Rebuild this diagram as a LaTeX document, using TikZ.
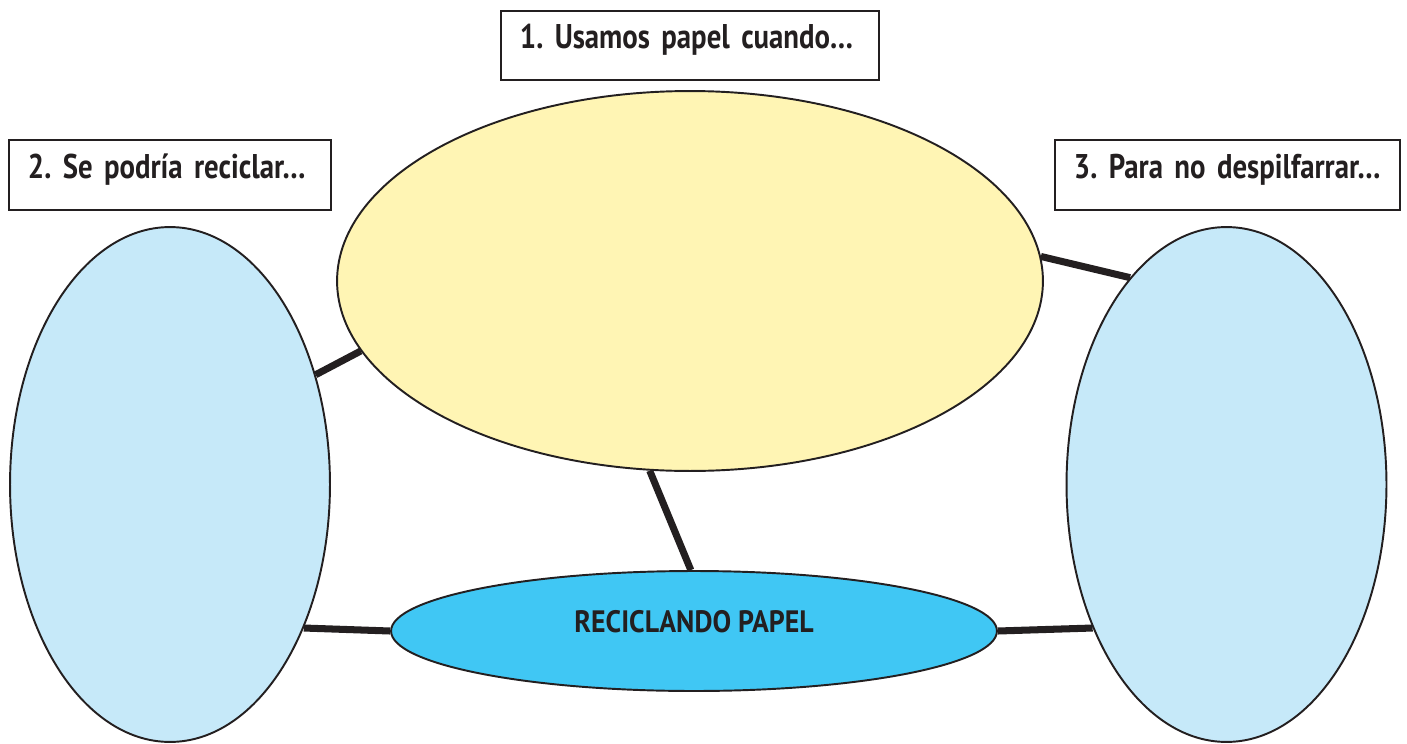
\documentclass[tikz,border=0pt]{standalone}
\usepackage{fontspec}
\setmainfont{PT Sans}[FakeStretch=0.9]
\newfontfamily\boxfont{PT Sans}[FakeStretch=0.84]
\usepackage{xcolor}
\usetikzlibrary{positioning, shapes.geometric, backgrounds}
\definecolor{inkdark}{HTML}{231F20}
\definecolor{paleyellow}{HTML}{FFF5B4}
\definecolor{paleblue}{HTML}{C6E9F9}
\definecolor{brightblue}{HTML}{40C7F4}
\frenchspacing
\tikzset{
  qbox/.style={rectangle, draw=inkdark, line width=1.1pt, fill=white,
               inner xsep=0.38cm, inner ysep=0pt, align=left, anchor=north west,
               text height=0.75em, text depth=0.35em,
               font=\boxfont\bfseries\fontsize{19.5}{22}\selectfont, text=inkdark},
  blob/.style={ellipse, draw=inkdark, line width=1.1pt, inner sep=0pt},
  link/.style={draw=inkdark, line width=4pt},
}

\begin{document}
\begin{tikzpicture}[x=0.02cm, y=-0.02cm]
  \useasboundingbox (0,0) rectangle (1407,744);
  % question boxes
  \node[qbox, minimum width=7.56cm, minimum height=1.38cm, text width=6.8cm] (q1) at (500,10) {\mbox{1. Usamos papel cuando…}};
  \node[qbox, minimum width=6.44cm, minimum height=1.40cm, text width=5.68cm] (q2) at (8,139) {\mbox{2. Se podría reciclar…}};
  \node[qbox, minimum width=6.90cm, minimum height=1.40cm, text width=6.14cm] (q3) at (1054,139) {\mbox{3. Para no despilfarrar…}};
  % answer ellipses
  \node[blob, fill=paleyellow, minimum width=14.12cm, minimum height=7.6cm] (uses) at (690,281) {};
  \node[blob, fill=paleblue, minimum width=6.4cm, minimum height=10.3cm] (recyc) at (170,484.5) {};
  \node[blob, fill=paleblue, minimum width=6.4cm, minimum height=10.3cm] (waste) at (1226.5,484.5) {};
  \node[blob, fill=brightblue, minimum width=12.12cm, minimum height=2.4cm,
        text height=0.7em, text depth=0.48em,
        font=\bfseries\fontsize{17.6}{20}\selectfont, text=inkdark] (core) at (694,631) {RECICLANDO PAPEL};
  % spokes
  \begin{scope}[on background layer]
    \draw[link] (recyc.37) -- (uses.192.3);
    \draw[link] (uses.4.7) -- (waste.115.8);
    \draw[link] (uses.258.6) -- (core.93.8);
    \draw[link] (recyc.-47.8) -- (core.west);
    \draw[link] (core.east) -- (waste.227.5);
  \end{scope}
\end{tikzpicture}
\end{document}
